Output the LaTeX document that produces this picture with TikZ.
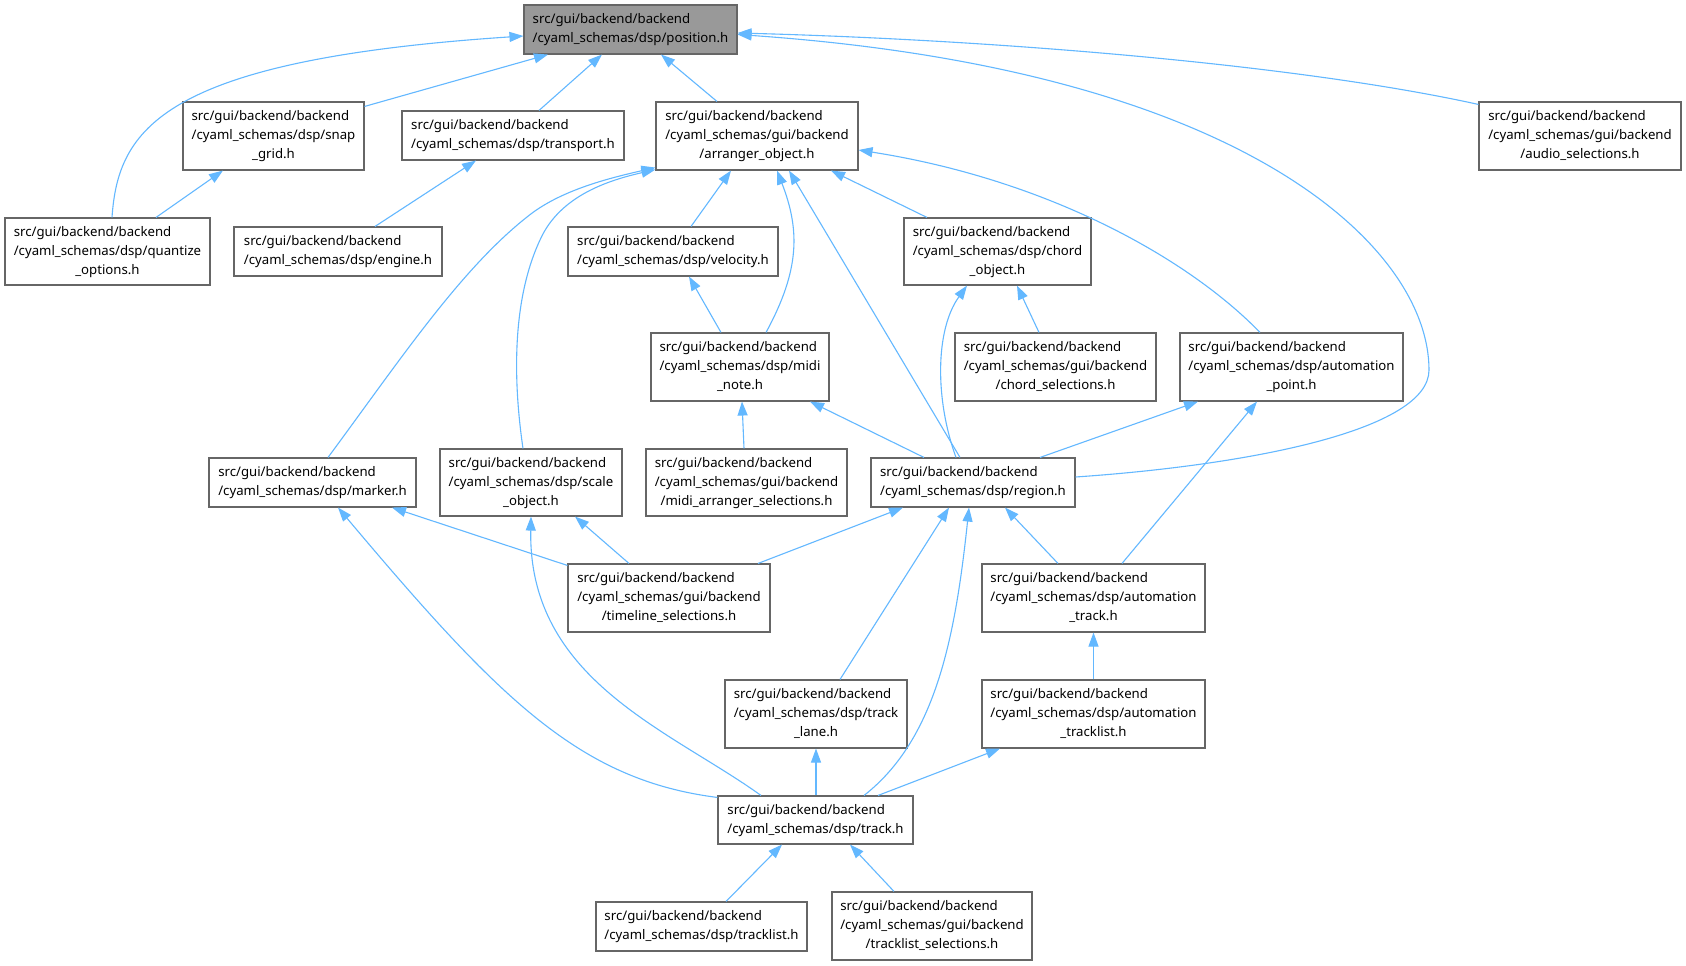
\documentclass[tikz,border=0pt]{standalone}
\usepackage{fontspec}
\newfontfamily\dxfont{Noto Sans}
\usetikzlibrary{arrows.meta}
\definecolor{edgeblue}{HTML}{63B8FF}
\definecolor{boxline}{HTML}{666666}
\definecolor{rootfill}{HTML}{999999}
\newcommand{\twol}[2]{\begin{tabular}{@{}l@{}}#1\\#2\end{tabular}}
\newcommand{\threel}[3]{\begin{tabular}{@{}l@{}}#1\\#2\\\multicolumn{1}{@{}c@{}}{#3}\end{tabular}}
\begin{document}
\begin{tikzpicture}[x=1pt,y=-1pt,
  box/.style={draw=boxline, fill=white, line width=1.1pt, inner sep=0pt, rectangle,
    font=\dxfont\fontsize{13.2}{19}\selectfont},
  edge/.style={draw=edgeblue, line width=1.1pt, -{Triangle[length=14pt,width=10pt]}}]
\useasboundingbox (0,0) rectangle (1686,966);
\fill[white] (0,0) rectangle (1686,966);

% nodes
\node[box, fill=rootfill, minimum width=213pt, minimum height=49pt] (position) at (630.5,29.5)
  {\twol{src/gui/backend/backend}{/cyaml\_schemas/dsp/position.h}};
\node[box, minimum width=181pt, minimum height=68pt] (snap) at (273.5,136)
  {\threel{src/gui/backend/backend}{/cyaml\_schemas/dsp/snap}{\_grid.h}};
\node[box, minimum width=222pt, minimum height=49pt] (transport) at (513,135.5)
  {\twol{src/gui/backend/backend}{/cyaml\_schemas/dsp/transport.h}};
\node[box, minimum width=202pt, minimum height=68pt] (arranger) at (757,136)
  {\threel{src/gui/backend/backend}{/cyaml\_schemas/gui/backend}{/arranger\_object.h}};
\node[box, minimum width=202pt, minimum height=68pt] (audio) at (1580,136)
  {\threel{src/gui/backend/backend}{/cyaml\_schemas/gui/backend}{/audio\_selections.h}};
\node[box, minimum width=205pt, minimum height=67pt] (quantize) at (107.5,251.5)
  {\threel{src/gui/backend/backend}{/cyaml\_schemas/dsp/quantize}{\_options.h}};
\node[box, minimum width=208pt, minimum height=49pt] (engine) at (338,251.5)
  {\twol{src/gui/backend/backend}{/cyaml\_schemas/dsp/engine.h}};
\node[box, minimum width=210pt, minimum height=49pt] (velocity) at (673,251.5)
  {\twol{src/gui/backend/backend}{/cyaml\_schemas/dsp/velocity.h}};
\node[box, minimum width=187pt, minimum height=67pt] (chord) at (997.5,251.5)
  {\threel{src/gui/backend/backend}{/cyaml\_schemas/dsp/chord}{\_object.h}};
\node[box, minimum width=178pt, minimum height=68pt] (midinote) at (740,367)
  {\threel{src/gui/backend/backend}{/cyaml\_schemas/dsp/midi}{\_note.h}};
\node[box, minimum width=201pt, minimum height=68pt] (chordsel) at (1055.5,367)
  {\threel{src/gui/backend/backend}{/cyaml\_schemas/gui/backend}{/chord\_selections.h}};
\node[box, minimum width=223pt, minimum height=68pt] (apoint) at (1291.5,367)
  {\threel{src/gui/backend/backend}{/cyaml\_schemas/dsp/automation}{\_point.h}};
\node[box, minimum width=207pt, minimum height=49pt] (marker) at (312.5,482.5)
  {\twol{src/gui/backend/backend}{/cyaml\_schemas/dsp/marker.h}};
\node[box, minimum width=182pt, minimum height=67pt] (scale) at (531,482.5)
  {\threel{src/gui/backend/backend}{/cyaml\_schemas/dsp/scale}{\_object.h}};
\node[box, minimum width=201pt, minimum height=67pt] (midiarr) at (746.5,482.5)
  {\threel{src/gui/backend/backend}{/cyaml\_schemas/gui/backend}{/midi\_arranger\_selections.h}};
\node[box, minimum width=204pt, minimum height=49pt] (region) at (973,482.5)
  {\twol{src/gui/backend/backend}{/cyaml\_schemas/dsp/region.h}};
\node[box, minimum width=202pt, minimum height=68pt] (timeline) at (669,598)
  {\threel{src/gui/backend/backend}{/cyaml\_schemas/gui/backend}{/timeline\_selections.h}};
\node[box, minimum width=223pt, minimum height=68pt] (atrack) at (1093.5,598)
  {\threel{src/gui/backend/backend}{/cyaml\_schemas/dsp/automation}{\_track.h}};
\node[box, minimum width=182pt, minimum height=68pt] (lane) at (816,714)
  {\threel{src/gui/backend/backend}{/cyaml\_schemas/dsp/track}{\_lane.h}};
\node[box, minimum width=223pt, minimum height=68pt] (atracklist) at (1093.5,714)
  {\threel{src/gui/backend/backend}{/cyaml\_schemas/dsp/automation}{\_tracklist.h}};
\node[box, minimum width=195pt, minimum height=48pt] (track) at (815.5,820)
  {\twol{src/gui/backend/backend}{/cyaml\_schemas/dsp/track.h}};
\node[box, minimum width=211pt, minimum height=49pt] (tracklist) at (701.5,926.5)
  {\twol{src/gui/backend/backend}{/cyaml\_schemas/dsp/tracklist.h}};
\node[box, minimum width=200pt, minimum height=68pt] (tracksel) at (932,926)
  {\threel{src/gui/backend/backend}{/cyaml\_schemas/gui/backend}{/tracklist\_selections.h}};

% edges
\draw[edge] ([xshift=4.5pt]quantize.north) .. controls (118,130) and (160,60) .. ([yshift=-6.5pt]position.west);
\draw[edge] ([yshift=-5pt]snap.north east) -- ([xshift=-82.5pt]position.south);
\draw[edge] ([xshift=48.5pt]quantize.north) -- ([xshift=-50.5pt]snap.south);
\draw[edge] ([xshift=26pt]transport.north) -- ([xshift=-28.5pt]position.south);
\draw[edge] ([xshift=37pt]engine.north) -- ([xshift=-37pt]transport.south);
\draw[edge] ([xshift=-40pt]arranger.north) -- ([xshift=30.5pt]position.south);
\draw[edge] ([yshift=5.5pt]region.east) .. controls (1250,465) and (1429,430) .. (1429,370)
  .. controls (1429,250) and (1250,70) .. ([yshift=-5pt]position.east);
\draw[edge] ([yshift=-3pt]audio.north west) .. controls (1300,65) and (1000,40) .. ([yshift=-3.5pt]position.east);
\draw[edge] ([xshift=15.5pt]marker.north) .. controls (400,360) and (460,270) .. (527,217)
  .. controls (560,190) and (610,178) .. ([yshift=3pt]arranger.south west);
\draw[edge] ([xshift=-8pt]scale.north) .. controls (513,380) and (512,300) .. (540,240)
  .. controls (560,195) and (610,180) .. ([yshift=1pt]arranger.south west);
\draw[edge] ([xshift=18pt]velocity.north) -- ([xshift=-26pt]arranger.south);
\draw[edge] ([xshift=26pt]midinote.north) .. controls (800,270) and (800,230) .. ([xshift=20pt]arranger.south);
\draw[edge] ([xshift=-13pt]region.north) -- ([xshift=32pt]arranger.south);
\draw[edge] ([xshift=-70.5pt]chord.north) -- ([xshift=74pt]arranger.south);
\draw[edge] ([xshift=-31.5pt]apoint.north) .. controls (1190,260) and (1050,180) .. ([yshift=-14pt]arranger.east);
\draw[edge] ([xshift=-16.5pt]chordsel.north) -- ([xshift=19.5pt]chord.south);
\draw[edge] ([xshift=-17pt]region.north) .. controls (935,400) and (935,330) .. ([xshift=-30.5pt]chord.south);
\draw[edge] ([xshift=-49pt]region.north) -- ([xshift=70pt]midinote.south);
\draw[edge] ([xshift=-2.5pt]midiarr.north) -- ([xshift=2pt]midinote.south);
\draw[edge] ([xshift=-19pt]midinote.north) -- ([xshift=16pt]velocity.south);
\draw[edge] ([xshift=67pt]region.north) -- ([xshift=-93.5pt]apoint.south);
\draw[edge] ([xshift=28.5pt]atrack.north) -- ([xshift=-34.5pt]apoint.south);
\draw[edge] ([yshift=-2pt]timeline.north west) -- ([xshift=79.5pt]marker.south);
\draw[edge] ([xshift=-40pt]timeline.north) -- ([xshift=44pt]scale.south);
\draw[edge] ([xshift=89pt]timeline.north) -- ([xshift=-70pt]region.south);
\draw[edge] ([yshift=-2pt]track.north west) .. controls (580,780) and (500,700) .. ([xshift=25.5pt]marker.south);
\draw[edge] ([xshift=-54.5pt]track.north) .. controls (670,730) and (528,680) .. (scale.south);
\draw[edge] ([xshift=24pt]lane.north) -- ([xshift=-24pt]region.south);
\draw[edge] ([xshift=48.5pt]track.north) .. controls (935,740) and (955,640) .. ([xshift=-4pt]region.south);
\draw[edge] ([xshift=-35.5pt]atrack.north) -- ([xshift=32pt]region.south);
\draw[edge] (atracklist.north) -- (atrack.south);
\draw[edge] ([xshift=62.5pt]track.north) -- ([xshift=-93.5pt]atracklist.south);
\draw[edge] ([xshift=0.5pt]track.north) -- (lane.south);
\draw[edge] ([xshift=24.5pt]tracklist.north) -- ([xshift=-33.5pt]track.south);
\draw[edge] ([xshift=-38pt]tracksel.north) -- ([xshift=34.5pt]track.south);
\end{tikzpicture}
\end{document}
